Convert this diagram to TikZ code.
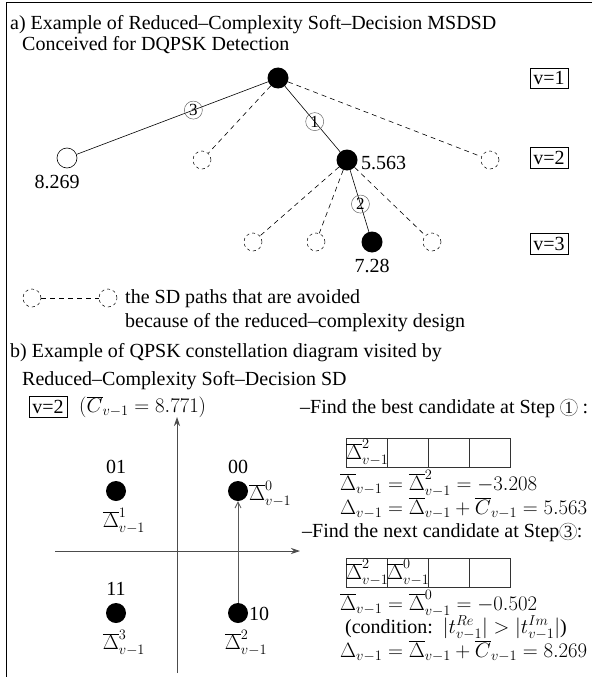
\documentclass[tikz,border=0pt]{standalone}
\usepackage[no-math]{fontspec}
\setmainfont{Liberation Serif}
\usetikzlibrary{arrows.meta}
\newcommand{\stepnum}[1]{\tikz[baseline=(sn.base)]\node[circle,draw=black!60,line width=0.5pt,inner sep=0pt,minimum size=17pt,font=\fontsize{17}{17}\selectfont](sn){#1};}
\newcommand{\dbar}{\overline{\Delta}}
\begin{document}
\begin{tikzpicture}[x=1pt,y=-1pt,font=\fontsize{20}{24}\selectfont,
  full/.style={circle,fill=black,inner sep=0,minimum size=21},
  openc/.style={circle,draw=black,line width=0.6pt,inner sep=0,minimum size=20},
  avoid/.style={circle,draw=black,dash pattern=on 3pt off 3pt,line width=0.5pt,inner sep=0,minimum size=18},
  solidedge/.style={line width=0.6pt},
  dashedge/.style={line width=0.6pt,dash pattern=on 5pt off 4pt},
  vbox/.style={draw,line width=0.6pt,inner sep=3.5pt},
  lbl/.style={inner sep=0},
  stepc/.style={circle,draw=black!60,line width=0.5pt,inner sep=0pt,minimum size=18,font=\fontsize{17}{17}\selectfont},
  axis/.style={draw=black!70,line width=0.8pt,-{Stealth[length=9pt,width=6pt]}},
  cell/.style={draw=black!80,line width=0.6pt,minimum width=41,minimum height=29,inner sep=0,anchor=north west}
]
\useasboundingbox (0,0) rectangle (592,677);
% frame
\draw[line width=0.8pt] (592,2) -- (6,2) -- (6,677);
% ---------- part a
\node[lbl,anchor=base west] (ta1) at (10,30) {a) Example of Reduced--Complexity Soft--Decision MSDSD};
\node[lbl,anchor=base west] (ta2) at (22,51) {Conceived for DQPSK Detection};
\node[full] (r) at (278,78) {};
\node[openc] (a1) at (67,158) {};
\node[avoid] (a2) at (202,160) {};
\node[full] (a3) at (347,160) {};
\node[avoid] (a4) at (490,160) {};
\node[avoid] (b1) at (253,242) {};
\node[avoid] (b2) at (316,242) {};
\node[full] (b3) at (372,242) {};
\node[avoid] (b4) at (432,242) {};
\draw[solidedge] (r) -- node[stepc,pos=0.39] (s3) {3} (a1);
\draw[dashedge] (r) -- (a2);
\draw[solidedge] (r) -- node[stepc,pos=0.54] (s1) {1} (a3);
\draw[dashedge] (r) -- (a4);
\draw[dashedge] (a3) -- (b1);
\draw[dashedge] (a3) -- (b2);
\draw[solidedge] (a3) -- node[stepc,pos=0.55] (s2) {2} (b3);
\draw[dashedge] (a3) -- (b4);
\node[lbl] (l1) at (57,182) {8.269};
\node[lbl,anchor=west] (l2) at (361,163) {5.563};
\node[lbl] (l3) at (372,266) {7.28};
\node[vbox] (v1) at (549,78) {v=1};
\node[vbox] (v2) at (549,158) {v=2};
\node[vbox] (v3) at (549,244) {v=3};
% legend
\node[avoid] (g1) at (32,298) {};
\node[avoid] (g2) at (108,298) {};
\draw[dashedge] (g1) -- (g2);
\node[lbl,anchor=base west] (lg1) at (125,303) {the SD paths that are avoided};
\node[lbl,anchor=base west] (lg2) at (125,327) {because of the reduced--complexity design};
% ---------- part b
\node[lbl,anchor=base west] (tb1) at (10,357) {b) Example of QPSK constellation diagram visited by};
\node[lbl,anchor=base west] (tb2) at (22,385) {Reduced--Complexity Soft--Decision SD};
\node[vbox] (vb) at (48,407) {v=2};
\node[lbl,anchor=west] (cv) at (79,407) {$(\overline{C}_{v-1} = 8.771)$};
\coordinate (yb) at (177,673);
\coordinate (yt) at (177,417);
\coordinate (xl) at (55,551);
\coordinate (xr) at (300,551);
\draw[axis] (yb) -- (yt);
\draw[axis] (xl) -- (xr);
\node[full,minimum size=20] (p01) at (116,491) {};
\node[full,minimum size=20] (p00) at (238,491) {};
\node[full,minimum size=20] (p11) at (116,613) {};
\node[full,minimum size=20] (p10) at (238,613) {};
\node[lbl] (n01) at (116,467) {01};
\node[lbl] (n00) at (238,467) {00};
\node[lbl] (n11) at (116,589) {11};
\node[lbl,anchor=west] (n10) at (249,614) {10};
\node[lbl] (d1) at (124,521) {$\dbar^1_{v-1}$};
\node[lbl,anchor=west] (d0) at (249,494) {$\dbar^0_{v-1}$};
\node[lbl] (d3) at (124,643) {$\dbar^3_{v-1}$};
\node[lbl] (d2) at (246,643) {$\dbar^2_{v-1}$};
\draw[draw=black!65,line width=0.8pt,-{Straight Barb[length=6pt,width=6pt]}] (p10) -- (p00);
% right column
\node[lbl,anchor=base west] (f1) at (300,413) {\textendash Find the best candidate at Step \stepnum{1} :};
\node[cell] (c11) at (346,438) {};
\node[cell] (c12) at (387,438) {};
\node[cell] (c13) at (428,438) {};
\node[cell] (c14) at (469,438) {};
\node[lbl,anchor=west] (c11t) at (c11.west) {$\dbar^2_{v-1}$};
\node[lbl,anchor=base west] (e1) at (340,490) {$\dbar_{v-1} = \dbar^2_{v-1} = -3.208$};
\node[lbl,anchor=base west] (e2) at (340,514) {$\Delta_{v-1} = \dbar_{v-1} + \overline{C}_{v-1} = 5.563$};
\node[lbl,anchor=base west] (f2) at (302,537) {\textendash Find the next candidate at Step\stepnum{3}:};
\node[cell] (c21) at (346,558) {};
\node[cell] (c22) at (387,558) {};
\node[cell] (c23) at (428,558) {};
\node[cell] (c24) at (469,558) {};
\node[lbl,anchor=west] (c21t) at (c21.west) {$\dbar^2_{v-1}$};
\node[lbl,anchor=west] (c22t) at (c22.west) {$\dbar^0_{v-1}$};
\node[lbl,anchor=base west] (e3) at (340,610) {$\dbar_{v-1} = \dbar^0_{v-1} = -0.502$};
\node[lbl,anchor=base west] (e4) at (345,633) {(condition:\ \ $|t^{Re}_{v-1}| > |t^{Im}_{v-1}|$)};
\node[lbl,anchor=base west] (e5) at (340,657) {$\Delta_{v-1} = \dbar_{v-1} + \overline{C}_{v-1} = 8.269$};
\end{tikzpicture}
\end{document}
